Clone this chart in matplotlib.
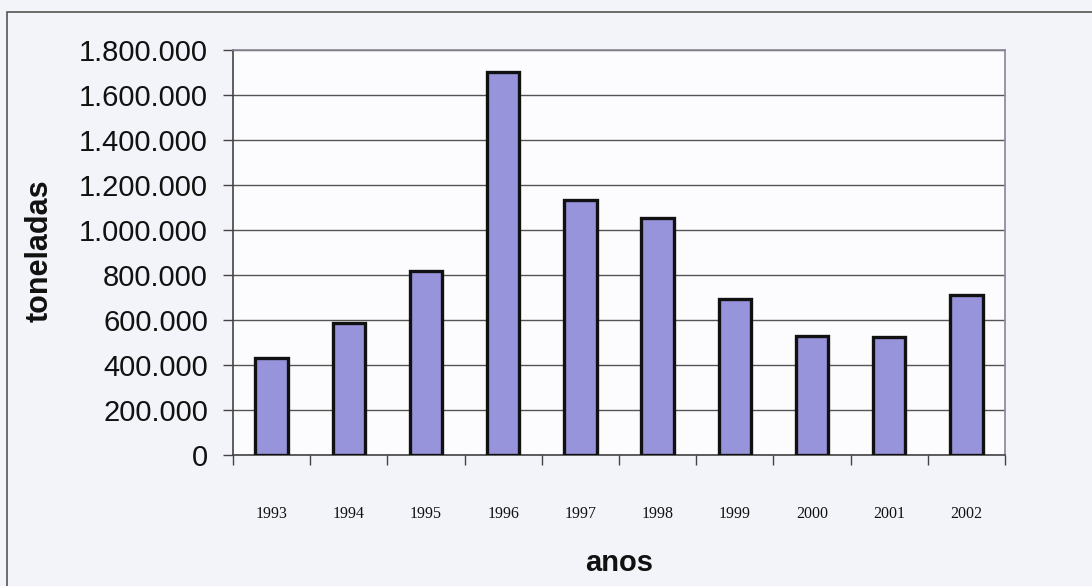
import matplotlib
matplotlib.use("Agg")
import matplotlib.pyplot as plt
from matplotlib.ticker import FuncFormatter, FixedLocator
from matplotlib.patches import Rectangle

years = ["1993", "1994", "1995", "1996", "1997", "1998", "1999", "2000", "2001", "2002"]
toneladas = [432000, 588000, 818000, 1701000, 1133000, 1052000, 695000, 530000, 524000, 710000]
y_ticks = [0, 200000, 400000, 600000, 800000, 1000000, 1200000, 1400000, 1600000, 1800000]

fig = plt.figure(figsize=(10.92, 5.86), dpi=100)
fig.patch.set_facecolor("#f3f4f9")

ax = fig.add_axes([233/1092, 1-455/586, (1005-233)/1092, (455-50)/586])
ax.set_facecolor("#fcfcfe")

x = list(range(len(years)))
ax.bar(x, toneladas, width=0.42, color="#9894dc", edgecolor="#111111", linewidth=2.4, zorder=3)

ax.set_xlim(-0.5, len(years) - 0.5)
ax.set_ylim(0, 1800000)

ax.set_yticks(y_ticks)
ax.yaxis.set_major_formatter(FuncFormatter(lambda v, p: f"{int(v):,}".replace(",", ".")))
ax.tick_params(axis="y", length=7, width=1, color="#444444", pad=11,
               labelsize=21, labelcolor="#111111")
for lab in ax.get_yticklabels():
    lab.set_fontfamily("Liberation Sans")

ax.grid(axis="y", color="#555555", linewidth=1.0, zorder=0)

# category boundary ticks
ax.xaxis.set_major_locator(FixedLocator([i - 0.5 for i in range(len(years) + 1)]))
ax.xaxis.set_major_formatter(FuncFormatter(lambda v, p: ""))
ax.tick_params(axis="x", which="major", length=7, width=1, color="#444444")
ax.xaxis.set_minor_locator(FixedLocator(x))
ax.set_xticks(x, years, minor=True)
ax.tick_params(axis="x", which="minor", length=0, pad=37, labelsize=11.5, labelcolor="#111111")
for lab in ax.get_xticklabels(minor=True):
    lab.set_fontfamily("Liberation Serif")

for side in ["top", "right"]:
    ax.spines[side].set_color("#8a8494")
    ax.spines[side].set_linewidth(1.2)
for side in ["left", "bottom"]:
    ax.spines[side].set_color("#444444")
    ax.spines[side].set_linewidth(1.2)

fig.text(619/1092, 1-563/586, "anos", ha="center", va="center", fontsize=21,
         fontweight="bold", family="Liberation Sans", color="#111111")
fig.text(40/1092, 1-251/586, "toneladas", ha="center", va="center", rotation=90,
         fontsize=22, fontweight="bold", family="Liberation Sans", color="#111111")

# outer chart frame (right/bottom edges beyond the image)
frame = Rectangle((7/1092, -0.1), 1.2, 1-12/586 + 0.1, transform=fig.transFigure,
                  fill=False, edgecolor="#555555", linewidth=1.2, clip_on=False)
fig.patches.append(frame)

fig.savefig("out.png", dpi=100, facecolor=fig.get_facecolor())
